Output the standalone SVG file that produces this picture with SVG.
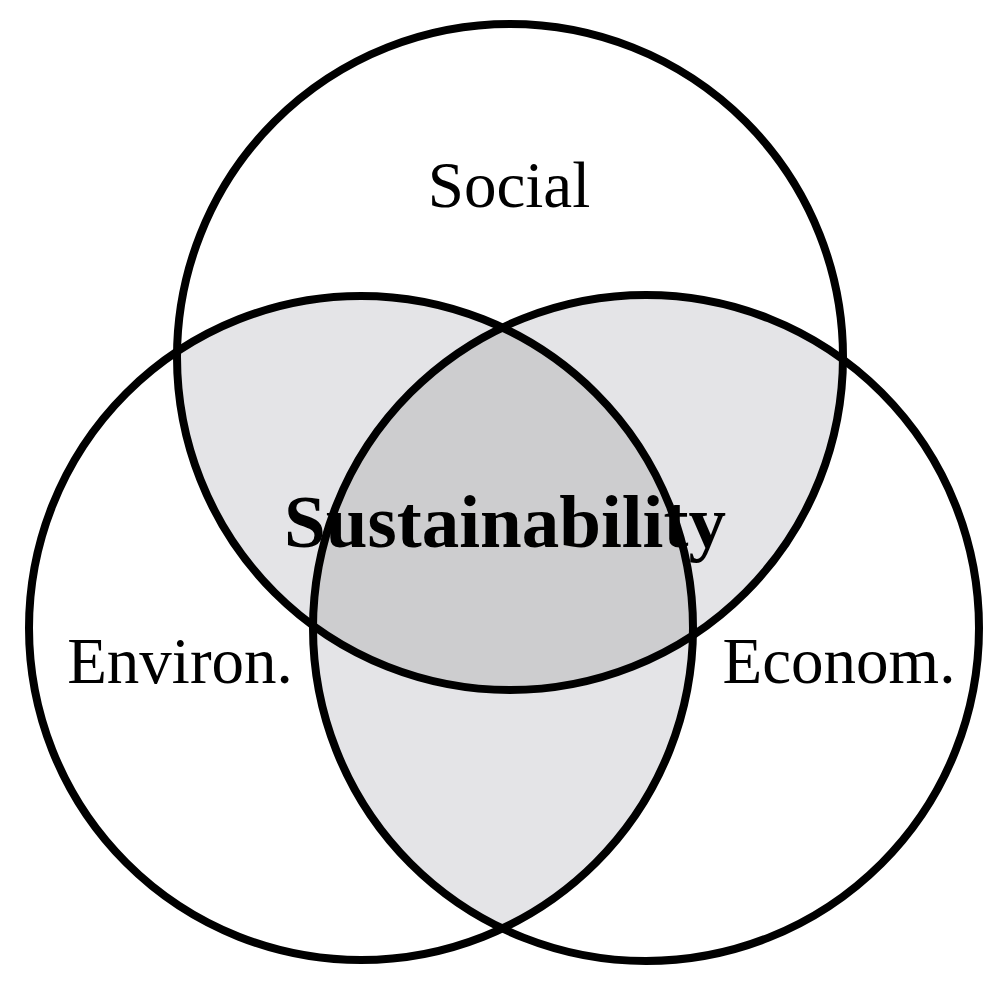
<svg xmlns="http://www.w3.org/2000/svg" width="1004" height="1001" viewBox="0 0 1004 1001">
  <style>
    .ring { fill: none; stroke: #000; stroke-width: 8; }
    .pair { fill: #e4e4e7; }
    .core { fill: #cdcdcf; }
    .lbl { font-family: "Liberation Serif", "Times New Roman", serif; font-size: 65px; fill: #000; text-anchor: middle; }
    .main { font-family: "Liberation Serif", "Times New Roman", serif; font-size: 75px; font-weight: bold; fill: #000; text-anchor: middle; }
  </style>
  <defs>
    <circle id="cS" cx="510" cy="357" r="333"/>
    <circle id="cL" cx="361" cy="628" r="332"/>
    <circle id="cR" cx="646" cy="628" r="333"/>
    <clipPath id="clipS"><use href="#cS"/></clipPath>
    <clipPath id="clipL"><use href="#cL"/></clipPath>
    <clipPath id="clipR"><use href="#cR"/></clipPath>
  </defs>
  <rect width="1004" height="1001" fill="#fff"/>
  <g id="overlaps">
    <use href="#cS" class="pair" clip-path="url(#clipL)"/>
    <use href="#cS" class="pair" clip-path="url(#clipR)"/>
    <use href="#cL" class="pair" clip-path="url(#clipR)"/>
    <g clip-path="url(#clipL)">
      <use href="#cS" class="core" clip-path="url(#clipR)"/>
    </g>
  </g>
  <g id="social">
    <use href="#cS" class="ring"/>
    <text class="lbl" x="509" y="207">Social</text>
  </g>
  <g id="environ">
    <use href="#cL" class="ring"/>
    <text class="lbl" x="180" y="683">Environ.</text>
  </g>
  <g id="econom">
    <use href="#cR" class="ring"/>
    <text class="lbl" x="839" y="683">Econom.</text>
  </g>
  <g id="sustainability">
    <text class="main" x="505" y="547">Sustainability</text>
  </g>
</svg>
